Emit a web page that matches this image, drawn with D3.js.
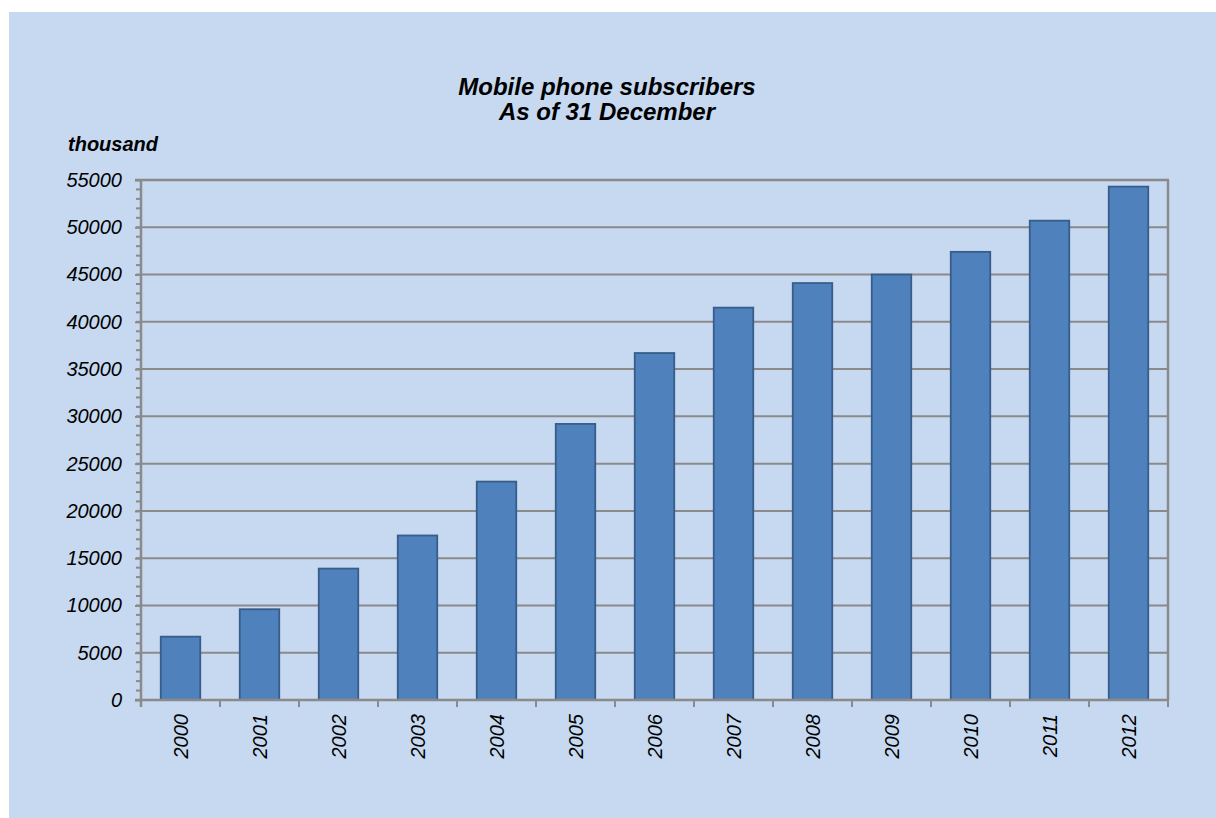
<!DOCTYPE html>
<html>
<head>
<meta charset="utf-8">
<script src="https://cdn.jsdelivr.net/npm/d3@7"></script>
<style>
  body { margin: 0; background: #fff; }
  text { font-family: "Liberation Sans", Arial, sans-serif; font-style: italic; fill: #000; }
</style>
</head>
<body>
<div id="chart"></div>
<script>
var years = ["2000", "2001", "2002", "2003", "2004", "2005", "2006", "2007", "2008", "2009", "2010", "2011", "2012"];
var subscribers = [6700, 9600, 13900, 17400, 23100, 29200, 36700, 41500, 44100, 45000, 47400, 50700, 54300];
var yTicks = [0, 5000, 10000, 15000, 20000, 25000, 30000, 35000, 40000, 45000, 50000, 55000];
var titleLines = ["Mobile phone subscribers", "As of 31 December"];
var unitLabel = "thousand";

var W = 1216, H = 818;
var margin = {top: 180, right: 48, bottom: 118, left: 141};
var width = W - margin.left - margin.right;
var height = H - margin.top - margin.bottom;

var svg = d3.select("#chart")
  .append("svg")
    .attr("width", W)
    .attr("height", H);

// light blue chart area
svg.append("rect")
  .attr("x", 9)
  .attr("y", 12)
  .attr("width", W - 9)
  .attr("height", H - 12)
  .attr("fill", "#c6d9f0");

svg.selectAll(".title")
  .data(titleLines)
  .enter().append("text")
    .attr("class", "title")
    .attr("x", 607)
    .attr("y", function(d, i) { return 95 + i * 25; })
    .attr("text-anchor", "middle")
    .style("font-size", "24px")
    .style("font-weight", "bold")
    .text(function(d) { return d; });

svg.append("text")
  .attr("x", 68)
  .attr("y", 151)
  .style("font-size", "20px")
  .style("font-weight", "bold")
  .text(unitLabel);

var g = svg.append("g")
  .attr("transform", "translate(" + margin.left + "," + margin.top + ")");

var x = d3.scaleBand().domain(years).range([0, width]).paddingInner(0.5).paddingOuter(0.25);
var xb = d3.scaleBand().domain(years).range([0, width]);
var y = d3.scaleLinear().domain([0, 55000]).range([height, 0]);

// gridlines
g.append("g")
  .selectAll("line")
  .data(yTicks.slice(1))
  .enter().append("line")
    .attr("x1", 0)
    .attr("x2", width)
    .attr("y1", function(d) { return y(d); })
    .attr("y2", function(d) { return y(d); })
    .attr("stroke", "#8a8a8a")
    .attr("stroke-width", 2);

// right frame
g.append("line")
  .attr("x1", width).attr("x2", width)
  .attr("y1", 0).attr("y2", height)
  .attr("stroke", "#8a8a8a")
  .attr("stroke-width", 2.5);

// bars
g.selectAll(".bar")
  .data(subscribers)
  .enter().append("rect")
    .attr("class", "bar")
    .attr("x", function(d, i) { return x(years[i]); })
    .attr("y", function(d) { return y(d); })
    .attr("width", x.bandwidth())
    .attr("height", function(d) { return height - y(d); })
    .attr("fill", "#4f81bd")
    .attr("stroke", "#385d8a")
    .attr("stroke-width", 1.8);

// minor ticks on y
var minor = d3.range(0, 55001, 1000);
g.append("g")
  .selectAll("line")
  .data(minor)
  .enter().append("line")
    .attr("x1", -5)
    .attr("x2", 0)
    .attr("y1", function(d) { return y(d); })
    .attr("y2", function(d) { return y(d); })
    .attr("stroke", "#8a8a8a")
    .attr("stroke-width", 2);

var yAxis = g.append("g")
  .call(d3.axisLeft(y).tickValues(yTicks).tickSize(6).tickPadding(13).tickFormat(d3.format("d")));
yAxis.selectAll("text").style("font-size", "20px");

// x axis: ticks at category boundaries
var xAxis = g.append("g")
  .attr("transform", "translate(0," + height + ")");
xAxis.append("line")
  .attr("x1", -6).attr("x2", width)
  .attr("stroke", "#8a8a8a")
  .attr("stroke-width", 2.5);
xAxis.selectAll(".xt")
  .data(years.concat(["end"]))
  .enter().append("line")
    .attr("class", "xt")
    .attr("x1", function(d, i) { return i * xb.bandwidth(); })
    .attr("x2", function(d, i) { return i * xb.bandwidth(); })
    .attr("y1", 0)
    .attr("y2", 7)
    .attr("stroke", "#8a8a8a")
    .attr("stroke-width", 2);
xAxis.selectAll(".xl")
  .data(years)
  .enter().append("text")
    .attr("class", "xl")
    .attr("transform", function(d) { return "translate(" + (xb(d) + xb.bandwidth() / 2) + ",14) rotate(-90)"; })
    .attr("text-anchor", "end")
    .attr("dy", "0.35em")
    .style("font-size", "20px")
    .text(function(d) { return d; });

yAxis.select(".domain").remove();
g.append("line")
  .attr("x1", 0).attr("x2", 0)
  .attr("y1", 0).attr("y2", height + 7)
  .attr("stroke", "#8a8a8a")
  .attr("stroke-width", 2.5);
yAxis.selectAll(".tick line").attr("stroke", "#8a8a8a").attr("stroke-width", 2);

// top frame
g.append("line")
  .attr("x1", -6).attr("x2", width + 1)
  .attr("y1", 0).attr("y2", 0)
  .attr("stroke", "#8a8a8a")
  .attr("stroke-width", 2.5);
</script>
</body>
</html>
